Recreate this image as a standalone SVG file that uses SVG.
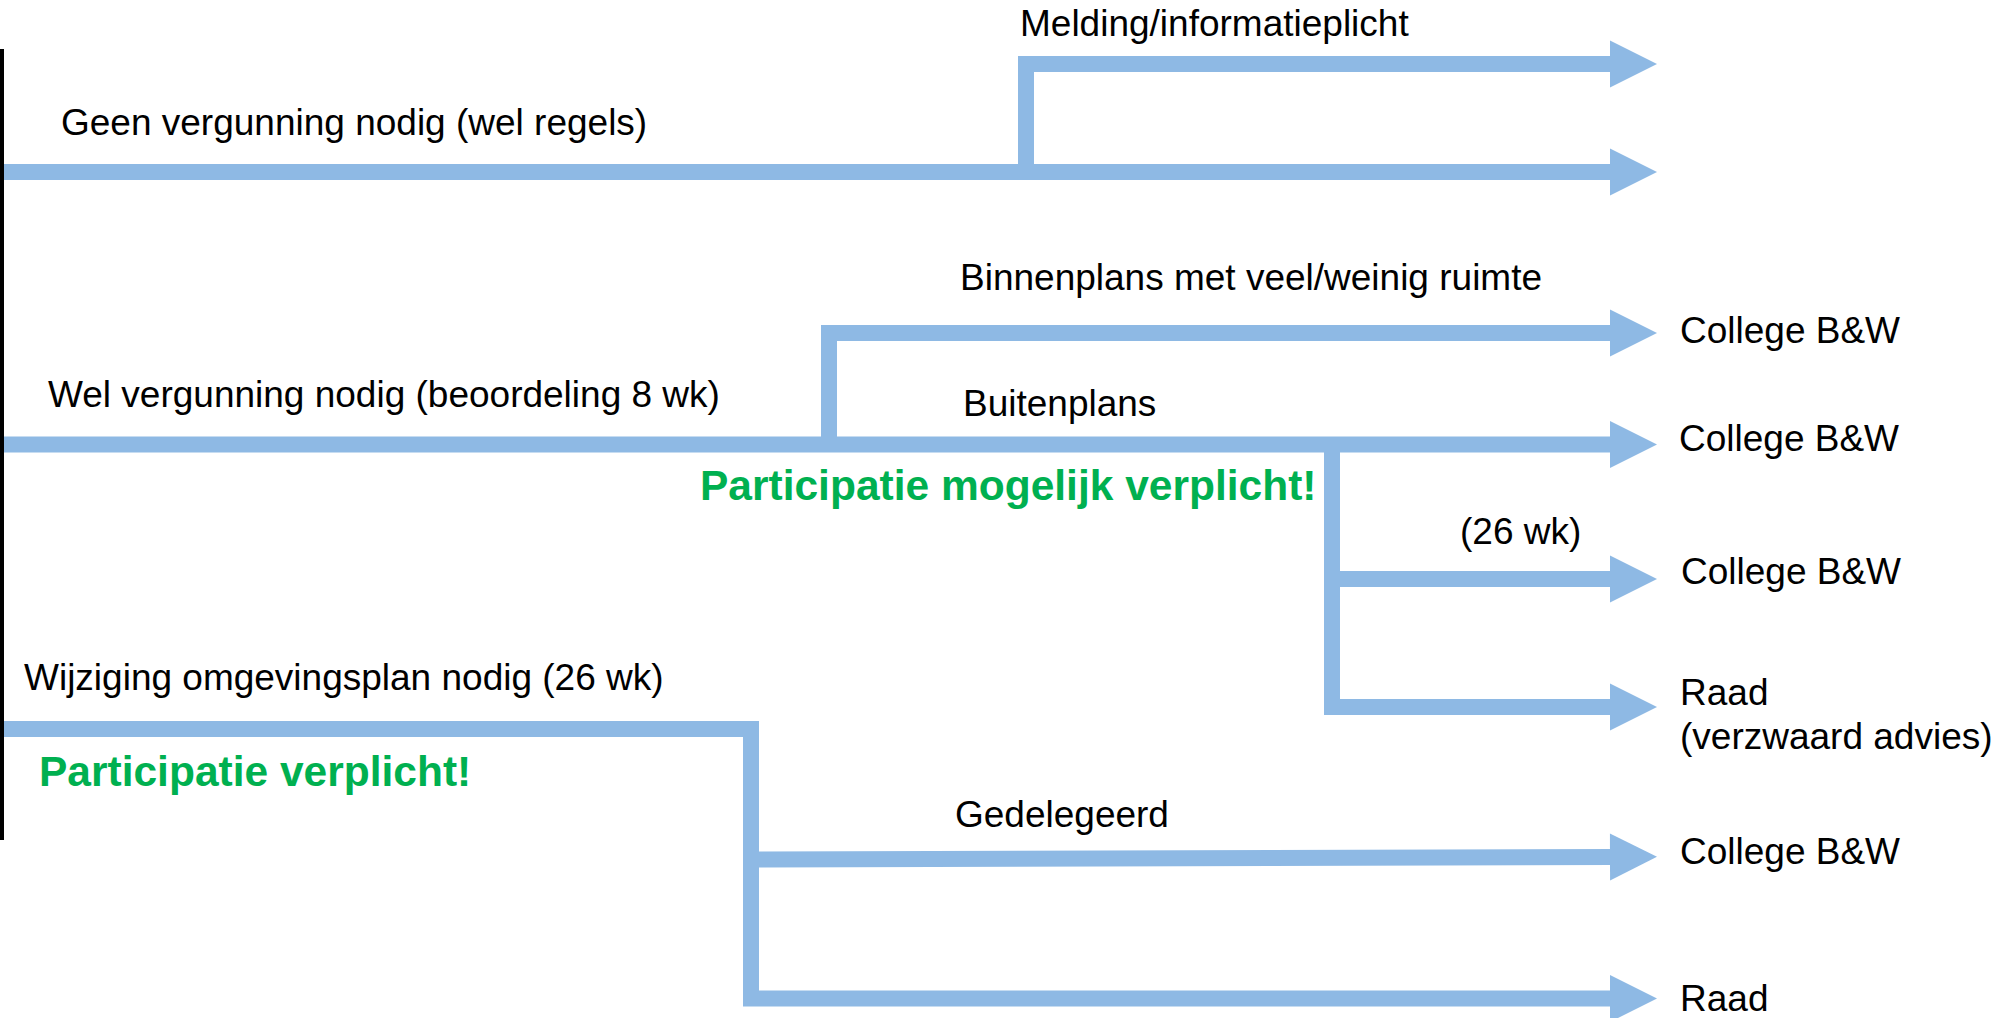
<svg xmlns="http://www.w3.org/2000/svg" width="2011" height="1018" viewBox="0 0 2011 1018">
<defs>
<style>
.t{font-family:"Liberation Sans",Arial,sans-serif;font-size:37px;fill:#000}
.g{font-family:"Liberation Sans",Arial,sans-serif;font-size:42.5px;font-weight:bold;fill:#00B050}
.c{fill:none;stroke:#8EB9E4;stroke-width:16;stroke-linejoin:miter;stroke-linecap:butt}
</style>
<marker id="ah" markerUnits="userSpaceOnUse" markerWidth="50" markerHeight="50" viewBox="0 -24 50 48" refX="2" refY="0" orient="auto" overflow="visible">
<path d="M0,-23.5 L47,0 L0,23.5 Z" fill="#8EB9E4"/>
</marker>
</defs>
<rect width="2011" height="1018" fill="#fff"/>
<rect id="axis" x="0" y="49" width="4" height="791" fill="#000"/>
<g id="connectors">
<path class="c" d="M4,172 H1612" marker-end="url(#ah)"/>
<path class="c" d="M1026,172 V64 H1612" marker-end="url(#ah)"/>
<path class="c" d="M4,444.5 H1612" marker-end="url(#ah)"/>
<path class="c" d="M829,444.5 V333 H1612" marker-end="url(#ah)"/>
<path class="c" d="M1332,444.5 V707 H1612" marker-end="url(#ah)"/>
<path class="c" d="M1332,579 H1612" marker-end="url(#ah)"/>
<path class="c" d="M4,729 H751 V998.5 H1612" marker-end="url(#ah)"/>
<path class="c" d="M751,859.5 L1612,857" marker-end="url(#ah)"/>
</g>
<g id="geen"><text class="t" x="61" y="135">Geen vergunning nodig (wel regels)</text></g>
<g id="melding"><text class="t" x="1020" y="36">Melding/informatieplicht</text></g>
<g id="binnenplans"><text class="t" x="960" y="290">Binnenplans met veel/weinig ruimte</text></g>
<g id="college1"><text class="t" x="1680" y="343">College B&amp;W</text></g>
<g id="wel"><text class="t" x="48" y="407">Wel vergunning nodig (beoordeling 8 wk)</text></g>
<g id="buitenplans"><text class="t" x="963" y="416">Buitenplans</text></g>
<g id="college2"><text class="t" x="1679" y="451">College B&amp;W</text></g>
<g id="participatie1"><text class="g" x="700" y="500">Participatie mogelijk verplicht!</text></g>
<g id="wk26"><text class="t" x="1460" y="544">(26 wk)</text></g>
<g id="college3"><text class="t" x="1681" y="584">College B&amp;W</text></g>
<g id="raad1"><text class="t" x="1680" y="705">Raad</text><text class="t" x="1680" y="749">(verzwaard advies)</text></g>
<g id="wijziging"><text class="t" x="24" y="690">Wijziging omgevingsplan nodig (26 wk)</text></g>
<g id="participatie2"><text class="g" x="39" y="786">Participatie verplicht!</text></g>
<g id="gedelegeerd"><text class="t" x="955" y="827">Gedelegeerd</text></g>
<g id="college4"><text class="t" x="1680" y="864">College B&amp;W</text></g>
<g id="raad2"><text class="t" x="1680" y="1011">Raad</text></g>
</svg>
